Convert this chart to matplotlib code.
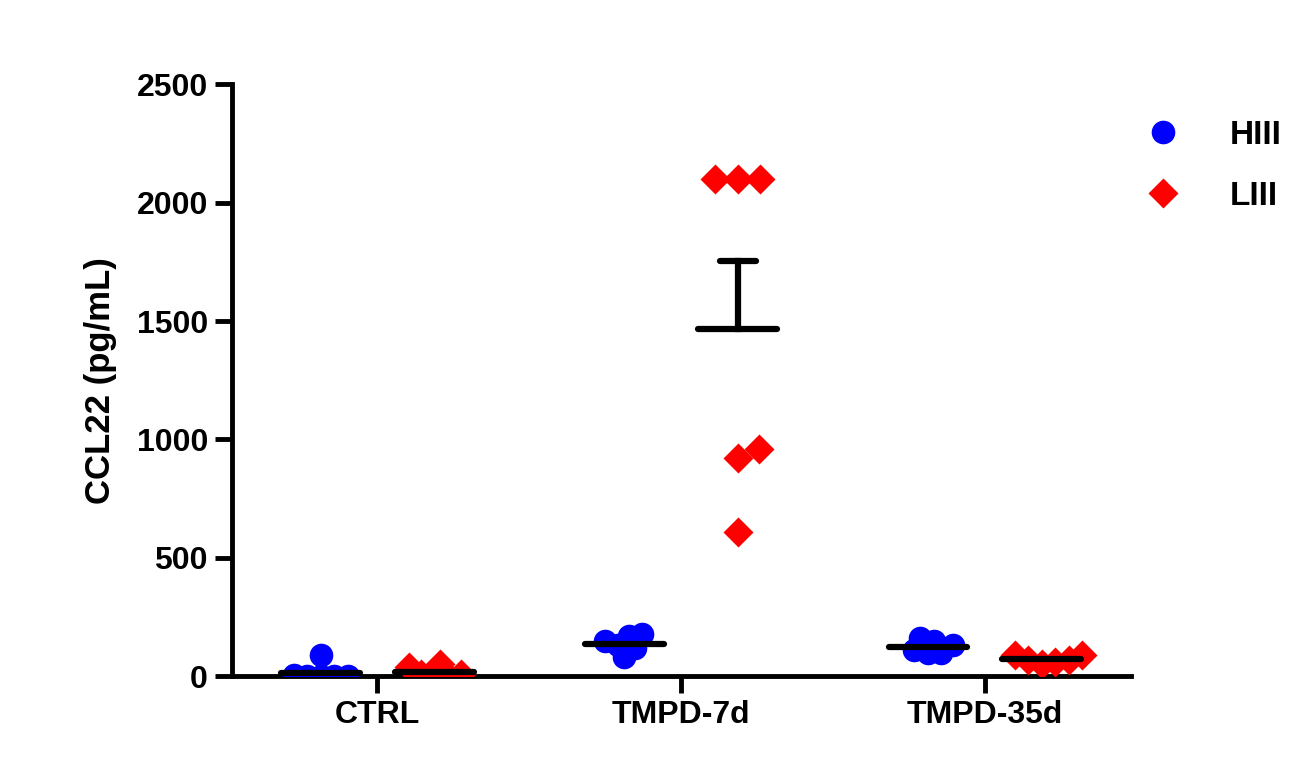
import numpy as np
import matplotlib
matplotlib.use("Agg")
import matplotlib.pyplot as plt

plt.rcParams['font.family'] = ['Liberation Sans', 'DejaVu Sans']

categories = ["CTRL", "TMPD-7d", "TMPD-35d"]
series = ["HIII", "LIII"]
hiii = [[90, 5, 0, 0, 0, 0],
        [180, 170, 150, 130, 120, 80],
        [160, 150, 130, 110, 100, 100]]
liii = [[50, 40, 10, 0, 0, 10],
        [2100, 2100, 2100, 960, 920, 610],
        [90, 90, 70, 60, 50, 70]]
yticks = [0, 500, 1000, 1500, 2000, 2500]

W, H, DPI = 13.01, 7.8, 100
fig = plt.figure(figsize=(W, H), dpi=DPI)
ax = fig.add_axes([0.178, 0.133, 0.691, 0.759])
ax.set_xlim(-0.48, 2.48)
ax.set_ylim(0, 2500)

xpx_per_unit = 0.691 * W * DPI / 2.96
ypx_per_unit = 0.759 * H * DPI / 2500
diam = 22.0

def swarm(vals, frac=0.6):
    order = np.argsort(vals)
    placed = []
    offs = np.zeros(len(vals))
    for i in order:
        y = vals[i] * ypx_per_unit
        for k in range(0, 60):
            cand = [0.0] if k == 0 else [k * 1.5, -k * 1.5]
            ok = None
            for c in cand:
                if all((c - px) ** 2 + (y - py) ** 2 >= (diam * frac) ** 2 for px, py in placed):
                    ok = c
                    break
            if ok is not None:
                placed.append((ok, y))
                offs[i] = ok / xpx_per_unit
                break
    return offs

styles = {"HIII": dict(marker='o', color='#0000ff', ms=17),
          "LIII": dict(marker='D', color='#ff0000', ms=15)}
for si, (name, data) in enumerate(zip(series, [hiii, liii])):
    for gi, vals in enumerate(data):
        vals = np.array(vals, float)
        xc = gi + (-0.187 if si == 0 else 0.187)
        frac = 1.0 if vals.max() > 500 else 0.6
        xs = xc + swarm(vals, frac)
        ax.plot(xs, vals, linestyle='none', mec='none', zorder=3, **styles[name])
        m = vals.mean()
        ax.plot([xc - 0.13, xc + 0.13], [m, m], color='black', lw=4.5, zorder=4,
                solid_capstyle='round')
        sem = vals.std(ddof=1) / np.sqrt(len(vals))
        if sem * ypx_per_unit > 15:
            ax.plot([xc, xc], [m, m + sem], color='black', lw=4.5, zorder=4)
            ax.plot([xc - 0.06, xc + 0.06], [m + sem, m + sem], color='black', lw=4.5,
                    zorder=4, solid_capstyle='round')

for s in ['top', 'right']:
    ax.spines[s].set_visible(False)
for s in ['left', 'bottom']:
    ax.spines[s].set_linewidth(3.5)
ax.set_xticks(range(len(categories)))
ax.set_xticklabels(categories)
ax.set_yticks(yticks)
ax.tick_params(width=3.5, length=12, labelsize=23, pad=5)
for lab in ax.get_xticklabels() + ax.get_yticklabels():
    lab.set_fontweight('bold')
ax.set_ylabel("CCL22 (pg/mL)", fontsize=25, fontweight='bold', labelpad=14)

from matplotlib.lines import Line2D
handles = [Line2D([], [], linestyle='none', mec='none', **styles[n]) for n in series]
leg = fig.legend(handles, series, loc='upper left', bbox_to_anchor=(0.845, 0.885),
                 frameon=False, prop={'size': 24, 'weight': 'bold'},
                 handletextpad=1.0, labelspacing=0.9)

fig.savefig("out.png", dpi=DPI)
